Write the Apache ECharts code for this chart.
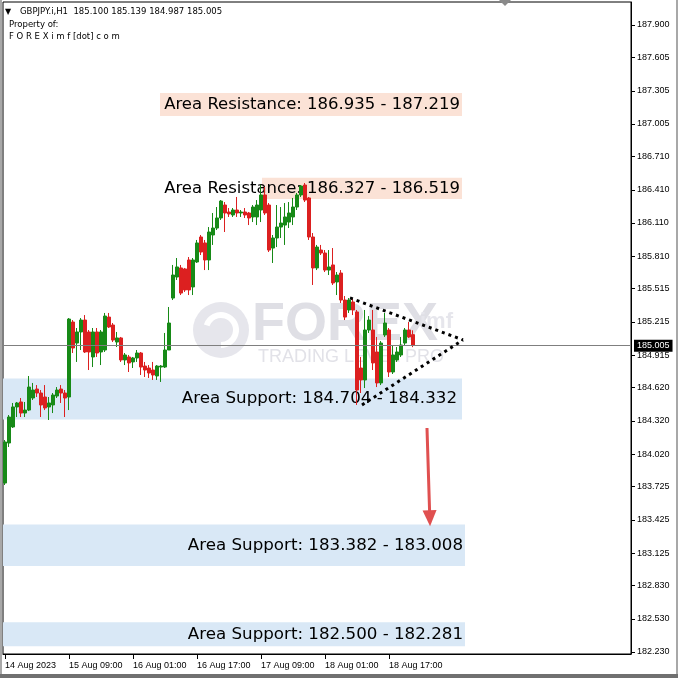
<!DOCTYPE html>
<html><head><meta charset="utf-8">
<script src="https://cdn.jsdelivr.net/npm/echarts@6/dist/echarts.min.js"></script>
<style>html,body{margin:0;padding:0;background:#fff}#c{width:678px;height:678px}</style>
</head><body><div id="c"></div>
<script>
const symbolName = 'GBPJPY.i,H1';
const xTickLabels = ['14 Aug 2023','15 Aug 09:00','16 Aug 01:00','16 Aug 17:00','17 Aug 09:00','18 Aug 01:00','18 Aug 17:00'];
const barsPerLabel = 16;
const totalSlots = 157;
const yTicks = [182.230,182.530,182.830,183.125,183.425,183.725,184.020,184.320,184.620,184.915,185.215,185.515,185.810,186.110,186.410,186.710,187.005,187.305,187.605,187.900];

const opens = [183.758,184.120,184.265,184.446,184.491,184.391,184.418,184.527,184.608,184.572,
184.536,184.446,184.464,184.545,184.608,184.572,184.536,185.214,185.024,185.124,
185.232,185.124,184.898,185.124,184.943,184.961,185.259,185.187,185.033,185.070,
184.871,184.898,184.853,184.889,184.934,184.816,184.798,184.780,184.726,184.807,
184.807,184.961,185.431,185.621,185.703,185.694,185.775,185.531,185.757,185.983,
185.929,185.775,186.001,186.064,186.155,186.272,186.209,186.182,186.227,186.200,
186.209,186.200,186.164,186.164,186.227,186.363,186.272,185.883,185.974,186.073,
186.091,186.118,186.164,186.254,186.363,186.453,186.336,185.983,185.703,185.865,
185.838,185.684,185.730,185.576,185.657,185.413,185.323,185.395,185.305,184.798,
184.690,185.142,185.142,184.943,184.663,185.097,185.142,184.762,184.871,184.916,
185.024,185.142,185.100];
const closes = [184.129,184.355,184.446,184.482,184.391,184.418,184.626,184.599,184.572,184.464,
184.437,184.482,184.554,184.599,184.572,184.527,185.241,184.979,185.124,185.232,
184.943,184.943,185.124,184.934,185.124,185.268,185.169,185.051,185.070,184.871,
184.916,184.844,184.889,184.934,184.807,184.780,184.753,184.735,184.816,184.816,
184.961,185.205,185.639,185.712,185.476,185.504,185.504,185.775,185.929,185.847,
185.775,186.028,186.064,186.155,186.308,186.200,186.191,186.227,186.200,186.209,
186.182,186.155,186.254,186.272,186.363,186.200,185.865,185.974,186.073,186.109,
186.164,186.200,186.254,186.363,186.444,186.317,185.983,185.703,185.892,185.838,
185.684,185.712,185.567,185.639,185.413,185.259,185.413,185.323,184.599,184.690,
185.142,185.232,184.844,184.663,185.024,185.205,184.762,184.916,184.943,185.006,
185.142,185.079,185.005];
const lows = [183.740,184.084,184.256,184.355,184.355,184.355,184.409,184.509,184.536,184.355,
184.418,184.328,184.391,184.527,184.482,184.355,184.418,184.934,184.853,184.961,
184.934,184.780,184.807,184.898,184.825,184.943,185.160,185.033,184.988,184.853,
184.825,184.762,184.798,184.853,184.735,184.717,184.708,184.690,184.690,184.672,
184.798,184.961,185.413,185.594,185.458,185.486,185.458,185.458,185.748,185.820,
185.684,185.684,185.911,186.046,186.137,186.028,186.164,186.164,186.164,186.164,
186.155,186.091,186.118,186.091,186.118,186.182,185.847,185.748,185.892,185.974,
185.911,186.064,186.091,186.227,186.345,186.299,185.956,185.549,185.684,185.820,
185.666,185.639,185.549,185.458,185.386,185.232,185.296,185.277,184.464,184.572,
184.617,185.115,184.780,184.626,184.644,185.079,184.717,184.744,184.853,184.898,
185.006,185.070,184.987];
const highs = [184.147,184.373,184.482,184.491,184.527,184.491,184.726,184.663,184.644,184.599,
184.644,184.536,184.572,184.626,184.644,184.599,185.250,185.232,185.160,185.250,
185.277,185.142,185.160,185.160,185.142,185.296,185.296,185.205,185.124,185.079,
184.934,184.916,184.898,184.961,184.943,184.853,184.825,184.853,184.825,184.825,
185.115,185.350,185.730,185.793,185.730,185.703,185.802,185.793,185.956,186.001,
185.956,186.073,186.200,186.254,186.317,186.299,186.245,186.245,186.345,186.227,
186.245,186.209,186.272,186.317,186.453,186.435,186.290,186.001,186.272,186.254,
186.290,186.299,186.336,186.381,186.453,186.471,186.345,186.019,185.911,185.911,
185.865,185.865,185.883,185.666,185.684,185.449,185.431,185.422,185.323,184.898,
185.323,185.268,185.323,185.079,185.042,185.296,185.160,185.006,184.988,185.079,
185.160,185.214,185.139];

const lastPrice = 185.005;

const zoneNames = ['Area Resistance: 186.935 - 187.219','Area Resistance: 186.327 - 186.519','Area Support: 184.704 - 184.332','Area Support: 183.382 - 183.008','Area Support: 182.500 - 182.281'];
const zoneLow = [187.077,186.327,184.332,183.008,182.281];
const zoneHigh = [187.285,186.519,184.704,183.382,182.500];
const zoneStart = [38.75,64.25,-0.5,-0.5,-0.5];
const zoneEnd = [114.25,114.25,114.25,115,115];
const zoneKind = ['res','res','sup','sup','sup'];

const triUpper = [[86.25,185.432],[114.5,185.052]];
const triLower = [[89.25,184.464],[114.5,185.052]];
const arrowPts = [[105.5,184.256],[106.2,183.44]];

const GREEN = '#178a17', RED = '#dc2020';
const FONT = 'Liberation Sans';
const TFONT = 'DejaVu Sans';

const categories = Array.from({length: totalSlots}, (_, i) => String(i));
const candles = opens.map((o, i) => [o, closes[i], lows[i], highs[i]]);
const labelIdx = i => i % barsPerLabel === 0 && (i / barsPerLabel) < xTickLabels.length;

const chart = echarts.init(document.getElementById('c'), null, {renderer: 'canvas'});

const labelDist = [2, 2, 5, 2, 2];
const areaData = zoneNames.map((n, i) => [
  {name: n, xAxis: zoneStart[i], yAxis: zoneHigh[i],
   itemStyle: {color: zoneKind[i] === 'res' ? '#fbe2d6' : '#d9e8f6'},
   label: {fontSize: zoneKind[i] === 'res' ? 16.5 : 16.7, distance: labelDist[i]}},
  {xAxis: zoneEnd[i], yAxis: zoneLow[i]}
]);

const last = opens.length - 1;
const header = symbolName + '  ' + [opens[last], highs[last], lows[last], closes[last]].map(v => v.toFixed(3)).join(' ');

chart.setOption({
  animation: false,
  backgroundColor: '#ffffff',
  grid: {left: 3, top: 2, width: 628, height: 652, show: true, borderColor: '#000', borderWidth: 1, backgroundColor: 'transparent'},
  xAxis: [{
    type: 'category', data: categories, boundaryGap: true,
    axisLine: {show: true, onZero: false, lineStyle: {color: '#000', width: 1}},
    axisTick: {show: true, interval: labelIdx, alignWithLabel: true, length: 5, lineStyle: {color: '#000'}},
    axisLabel: {interval: labelIdx, align: 'left', margin: 7, fontSize: 9, fontFamily: FONT, color: '#000',
      formatter: (v, idx) => xTickLabels[Math.round(Number(v) / barsPerLabel)] || ''},
    splitLine: {show: false}
  }, {
    type: 'value', min: -0.5, max: totalSlots - 0.5, show: false, gridIndex: 0,
    axisLine: {onZero: false}
  }],
  yAxis: {
    type: 'value', position: 'right', min: 182.212, max: 188.108, scale: true,
    axisLine: {show: true, onZero: false, lineStyle: {color: '#000'}},
    axisTick: {show: true, length: 4, customValues: yTicks, lineStyle: {color: '#000'}},
    axisLabel: {customValues: yTicks, margin: 6, fontSize: 9, fontFamily: FONT, color: '#000', formatter: v => Number(v).toFixed(3)},
    splitLine: {show: false}
  },
  graphic: [
    {type: 'circle', z: 0, shape: {cx: 221, cy: 330, r: 28}, style: {fill: '#e6e6ec'}},
    {type: 'arc', z: 0, shape: {cx: 221, cy: 330, r: 15, startAngle: -Math.PI * 0.9, endAngle: Math.PI * 0.5}, style: {stroke: '#ffffff', lineWidth: 6, fill: null}},
    {type: 'text', z: 0, style: {text: 'FOREX', x: 252, y: 325, fill: '#dfdfe5', font: 'bold 54px "Liberation Sans"', verticalAlign: 'middle'}},
    {type: 'text', z: 0, style: {text: 'imf', x: 420, y: 322, fill: '#e6e6ec', font: 'bold 22px "Liberation Sans"', verticalAlign: 'middle'}},
    {type: 'text', z: 0, style: {text: 'TRADING LEVEL PRO', x: 258, y: 357, fill: '#e2e2e8', font: '18px "Liberation Sans"', verticalAlign: 'middle'}},
    {type: 'text', z: 100, style: {text: '\u25BC', x: 5, y: 12, fill: '#000', font: '8px "DejaVu Sans"', verticalAlign: 'middle'}},
    {type: 'text', z: 100, style: {text: header, x: 20, y: 12, fill: '#000', font: '8.5px "DejaVu Sans"', verticalAlign: 'middle'}},
    {type: 'text', z: 100, style: {text: 'Property of:', x: 9, y: 25, fill: '#000', font: '8.5px "DejaVu Sans"', verticalAlign: 'middle'}},
    {type: 'text', z: 100, style: {text: 'F O R E X i m f [dot] c o m', x: 9, y: 37, fill: '#000', font: '8.5px "DejaVu Sans"', verticalAlign: 'middle'}},
    {type: 'polygon', z: 100, shape: {points: [[499, 0], [511, 0], [505, 6]]}, style: {fill: '#8a8a8a'}},
    {type: 'rect', z: 100, shape: {x: 0, y: 0, width: 2, height: 678}, style: {fill: '#a8a8a8'}},
    {type: 'rect', z: 100, shape: {x: 676, y: 0, width: 2, height: 678}, style: {fill: '#a8a8a8'}},
    {type: 'rect', z: 100, shape: {x: 0, y: 674, width: 678, height: 4}, style: {fill: '#707070'}}
  ],
  series: [
    {
      type: 'line', xAxisIndex: 1, data: [], silent: true, z: 1,
      markArea: {
        silent: true,
        label: {show: true, position: 'insideRight', distance: 2, color: '#000', fontSize: 16.5, fontFamily: TFONT},
        data: areaData
      }
    },
    {
      type: 'candlestick', xAxisIndex: 0, data: candles, barWidth: 3, z: 2,
      itemStyle: {color: GREEN, color0: RED, borderColor: GREEN, borderColor0: RED, borderWidth: 1},
      markLine: {
        silent: true, symbol: ['none', 'none'],
        data: [{
          yAxis: lastPrice,
          lineStyle: {color: '#7f7f7f', width: 1, type: 'solid'},
          label: {show: true, position: 'end', distance: 3, formatter: lastPrice.toFixed(3), color: '#fff',
            backgroundColor: '#000', padding: [2, 3, 1, 3], fontSize: 9, fontFamily: FONT}
        }]
      }
    },
    {
      type: 'line', xAxisIndex: 1, data: [], silent: true, z: 5,
      markLine: {
        silent: true, symbol: ['none', 'none'], label: {show: false},
        data: [
          [{coord: triUpper[0], lineStyle: {color: '#000', width: 3, type: [3, 4]}}, {coord: triUpper[1]}],
          [{coord: triLower[0], lineStyle: {color: '#000', width: 3, type: [3, 4]}}, {coord: triLower[1]}],
          [{coord: arrowPts[0], symbol: 'none', lineStyle: {color: '#e05050', width: 3, type: 'solid'}},
           {coord: arrowPts[1], symbol: 'triangle', symbolSize: [14, 16]}]
        ]
      }
    }
  ]
});
</script></body></html>
